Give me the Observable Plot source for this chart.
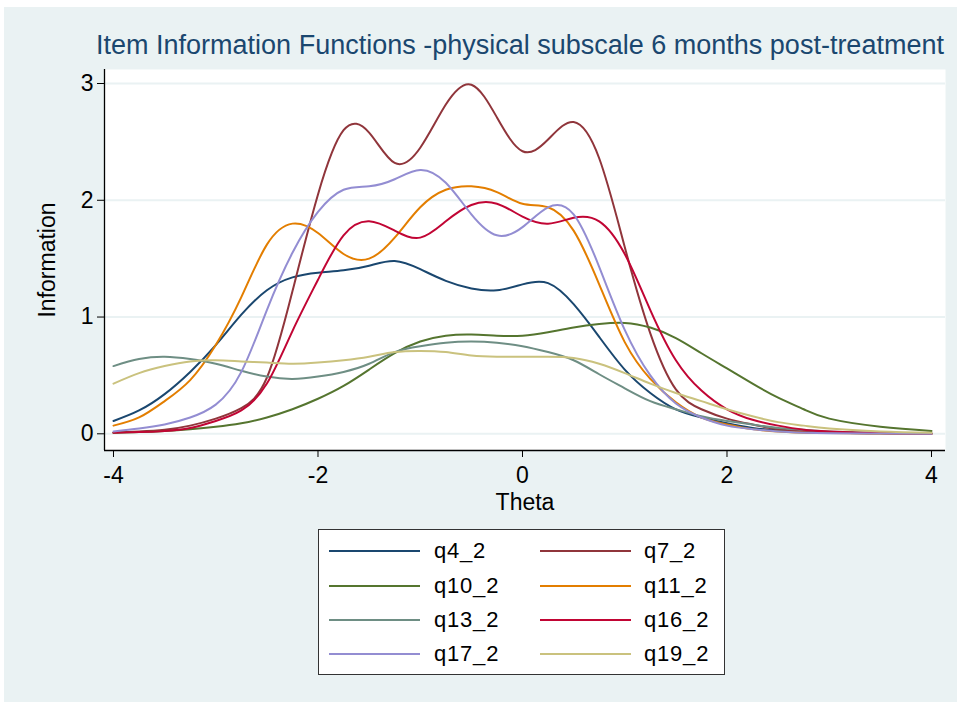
<!DOCTYPE html>
<html>
<head>
<meta charset="utf-8">
<script src="https://cdn.jsdelivr.net/npm/d3@7"></script>
<script src="https://cdn.jsdelivr.net/npm/@observablehq/plot@0.6"></script>
<style>
  body { margin: 0; background: #ffffff; font-family: "Liberation Sans", Arial, sans-serif; }
  #bg { position: absolute; left: 4px; top: 7px; width: 953px; height: 695px; background: #eaf2f3; }
  #title { position: absolute; left: 520px; top: 30px; transform: translateX(-50%); white-space: nowrap;
           font-size: 27px; line-height: 30px; color: #1a476f; }
  #chart { position: absolute; left: 0; top: 60px; }
  #legend { position: absolute; left: 318px; top: 529px; width: 405px; height: 144px; background: #ffffff;
            border: 1px solid #333333; }
  .sw { position: absolute; height: 2px; width: 91px; }
  .lb { position: absolute; font-size: 22px; letter-spacing: 0.8px; line-height: 24px; color: #000; }
</style>
</head>
<body>
<div id="bg"></div>
<div id="title"></div>
<div id="chart"></div>
<div id="legend"></div>
<script>
// ---- data ----
const titleText = "Item Information Functions -physical subscale 6 months post-treatment";
const xLabel = "Theta";
const yLabel = "Information";
const xTicks = [-4, -2, 0, 2, 4];
const xTickLabels = ["-4", "-2", "0", "2", "4"];
const yTicks = [0, 1, 2, 3];
const yTickLabels = ["0", "1", "2", "3"];

const theta = [-4, -3.75, -3.5, -3.25, -3, -2.75, -2.5, -2.25, -2, -1.75, -1.5, -1.25, -1, -0.75, -0.5, -0.25,
               0, 0.25, 0.5, 0.75, 1, 1.25, 1.5, 1.75, 2, 2.25, 2.5, 2.75, 3, 3.5, 4];

const q4_2  = [0.11, 0.20, 0.34, 0.53, 0.76, 1.02, 1.23, 1.34, 1.38, 1.40, 1.44, 1.48, 1.41, 1.31, 1.245, 1.23,
               1.28, 1.29, 1.11, 0.83, 0.55, 0.35, 0.21, 0.14, 0.09, 0.05, 0.03, 0.02, 0.01, 0.004, 0.001];
const q7_2  = [0.01, 0.02, 0.035, 0.07, 0.13, 0.22, 0.48, 1.22, 2.05, 2.6, 2.58, 2.32, 2.45, 2.82, 2.99, 2.71,
               2.42, 2.52, 2.67, 2.36, 1.6, 0.86, 0.38, 0.21, 0.13, 0.08, 0.04, 0.02, 0.01, 0.004, 0.001];
const q10_2 = [0.01, 0.015, 0.025, 0.04, 0.06, 0.09, 0.14, 0.21, 0.30, 0.41, 0.55, 0.69, 0.79, 0.84, 0.85, 0.84,
               0.84, 0.87, 0.91, 0.94, 0.95, 0.91, 0.82, 0.69, 0.56, 0.43, 0.31, 0.21, 0.13, 0.06, 0.025];
const q11_2 = [0.07, 0.14, 0.28, 0.46, 0.76, 1.17, 1.62, 1.80, 1.72, 1.54, 1.50, 1.68, 1.94, 2.09, 2.12, 2.07,
               1.97, 1.94, 1.74, 1.28, 0.785, 0.47, 0.27, 0.14, 0.08, 0.04, 0.02, 0.01, 0.006, 0.002, 0.001];
const q13_2 = [0.58, 0.64, 0.66, 0.64, 0.60, 0.54, 0.49, 0.47, 0.49, 0.53, 0.60, 0.70, 0.75, 0.78, 0.79, 0.78,
               0.75, 0.70, 0.63, 0.51, 0.39, 0.28, 0.21, 0.15, 0.11, 0.08, 0.05, 0.035, 0.02, 0.01, 0.004];
const q16_2 = [0.01, 0.015, 0.025, 0.05, 0.11, 0.20, 0.43, 0.88, 1.32, 1.70, 1.82, 1.74, 1.68, 1.82, 1.96, 1.97,
               1.86, 1.80, 1.85, 1.82, 1.54, 1.06, 0.63, 0.37, 0.21, 0.12, 0.07, 0.035, 0.02, 0.006, 0.002];
const q17_2 = [0.02, 0.045, 0.08, 0.14, 0.25, 0.53, 1.06, 1.55, 1.90, 2.09, 2.12, 2.18, 2.26, 2.15, 1.88, 1.70,
               1.77, 1.94, 1.88, 1.43, 0.89, 0.5, 0.26, 0.14, 0.07, 0.04, 0.02, 0.01, 0.005, 0.002, 0.001];
const q19_2 = [0.43, 0.52, 0.58, 0.62, 0.63, 0.62, 0.61, 0.60, 0.61, 0.63, 0.66, 0.70, 0.71, 0.70, 0.67, 0.66,
               0.66, 0.66, 0.65, 0.60, 0.52, 0.43, 0.35, 0.28, 0.21, 0.15, 0.10, 0.07, 0.045, 0.02, 0.008];

const seriesNames  = ["q4_2", "q7_2", "q10_2", "q11_2", "q13_2", "q16_2", "q17_2", "q19_2"];
const seriesValues = [q4_2, q7_2, q10_2, q11_2, q13_2, q16_2, q17_2, q19_2];
const seriesColors = ["#1a476f", "#90353b", "#55752f", "#e37e00", "#6e8e84", "#c10534", "#938dd2", "#cac27e"];

// ---- build ----
document.getElementById("title").textContent = titleText;

const rows = seriesNames.flatMap((name, i) =>
  theta.map((t, j) => ({theta: t, info: seriesValues[i][j], item: name})));

const xDomain = [-4.088, 4.137];
const yDomain = [-0.143, 3.12];

const chart = Plot.plot({
  width: 957,
  height: 460,
  marginTop: 9,
  marginBottom: 70,
  marginLeft: 104,
  marginRight: 12,
  style: {background: "transparent", fontFamily: "'Liberation Sans', Arial, sans-serif", color: "#000"},
  x: {domain: xDomain},
  y: {domain: yDomain},
  color: {domain: seriesNames, range: seriesColors},
  marks: [
    Plot.frame({fill: "#ffffff", stroke: "none"}),
    Plot.ruleY(yTicks, {stroke: "#eaf2f3", strokeWidth: 2}),
    Plot.line(rows, {x: "theta", y: "info", z: "item", stroke: "item", strokeWidth: 2, curve: "natural"}),
    Plot.ruleX([xDomain[0]], {stroke: "#000", strokeWidth: 1.3}),
    Plot.ruleY([yDomain[0]], {stroke: "#000", strokeWidth: 1.3}),
    Plot.axisY({ticks: yTicks, tickFormat: (d) => yTickLabels[yTicks.indexOf(d)], tickSize: 7, tickPadding: 4,
                fontSize: 23, label: yLabel, labelAnchor: "center", labelArrow: "none", labelOffset: 66}),
    Plot.axisX({ticks: xTicks, tickFormat: (d) => xTickLabels[xTicks.indexOf(d)], tickSize: 7, tickPadding: 9,
                fontSize: 23, label: xLabel, labelAnchor: "center", labelArrow: "none", labelOffset: 59})
  ]
});
document.getElementById("chart").appendChild(chart);

// legend
const legend = document.getElementById("legend");
const rowY = [21, 56, 90, 124];
seriesNames.forEach((name, i) => {
  const r = Math.floor(i / 2), c = i % 2;
  const sw = document.createElement("div");
  sw.className = "sw";
  sw.style.left = (c === 0 ? 10 : 221) + "px";
  sw.style.top = (rowY[r] - 1) + "px";
  sw.style.background = seriesColors[i];
  legend.appendChild(sw);
  const lb = document.createElement("div");
  lb.className = "lb";
  lb.style.left = (c === 0 ? 115 : 325) + "px";
  lb.style.top = (rowY[r] - 12) + "px";
  lb.textContent = name;
  legend.appendChild(lb);
});
</script>
</body>
</html>
